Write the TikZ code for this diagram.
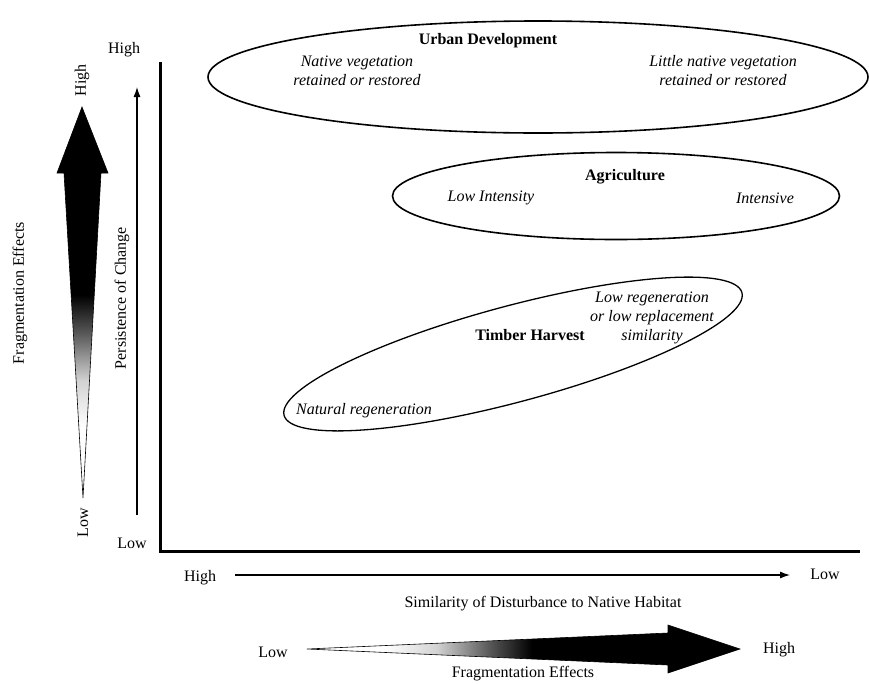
\documentclass[tikz,border=0pt]{standalone}
\usepackage{fontspec}
\setmainfont{Liberation Serif}
\usetikzlibrary{shapes.geometric, arrows.meta}

% white tail, black head (middle 25bp..75bp covers the path)
\pgfdeclarehorizontalshading{fragshade}{100bp}{color(0bp)=(white); color(34bp)=(white); color(40bp)=(gray!35); color(46bp)=(gray!70!black); color(51bp)=(black); color(100bp)=(black)}

\tikzset{
  txt/.style={font=\fontsize{16}{19}\selectfont, inner sep=0pt, align=center},
  bold/.style={txt, font=\fontsize{16}{19}\selectfont\bfseries},
  ital/.style={txt, font=\fontsize{16}{19}\selectfont\itshape},
  region/.style={draw, ellipse, line width=1.6pt, inner sep=0pt},
  fragarrow/.style={shading=fragshade, draw=black, line width=0.6pt},
}

\begin{document}
\begin{tikzpicture}[x=1pt, y=-1pt]
    \useasboundingbox (0,0) rectangle (869,683);

    % axes
    \coordinate (ytop) at (160,62);
    \coordinate (origin) at (160,551);
    \coordinate (xend) at (860,551);
    \draw[line width=3pt, line join=miter] (ytop) -- (origin) -- (xend);

    % persistence of change
    \coordinate (persLow) at (137,515);
    \coordinate (persHigh) at (137,87);
    \draw[line width=1.1pt, -{Latex[length=10pt, width=7pt]}] (persLow) -- (persHigh);
    \node[txt] (highY) at (124,50) {High};
    \node[txt] (lowY) at (132,543) {Low};
    \node[txt, rotate=90] (persLabel) at (122,298) {Persistence of Change};

    % similarity of disturbance
    \coordinate (simHigh) at (235,575);
    \coordinate (simLow) at (790,575);
    \draw[line width=1.1pt, -{Latex[length=10pt, width=7pt]}] (simHigh) -- (simLow);
    \node[txt] (highX) at (200,578) {High};
    \node[txt] (lowX) at (825,574) {Low};
    \node[txt] (simLabel) at (543,604) {Similarity of Disturbance to Native Habitat};

    % fragmentation effects, vertical
    \shade[fragarrow, shading angle=90] (82,107) -- (108,173) -- (101,173) -- (83,498)
        -- (64,173) -- (57,173) -- cycle;
    \node[txt, rotate=90] (fragHighV) at (82,80) {High};
    \node[txt, rotate=90] (fragLowV) at (83,523) {Low};
    \node[txt, rotate=90] (fragLabelV) at (20,293) {Fragmentation Effects};

    % fragmentation effects, horizontal
    \shade[fragarrow] (307,649) -- (668,633) -- (668,625) -- (740,649) -- (668,673)
        -- (668,665) -- cycle;
    \node[txt] (fragLowH) at (273,652) {Low};
    \node[txt] (fragHighH) at (779,650) {High};
    \node[txt] (fragLabelH) at (523,674) {Fragmentation Effects};

    % disturbance types
    \node[region, minimum width=660pt, minimum height=112pt] (urban) at (538,77) {};
    \node[bold] (urbanName) at (488,41) {Urban Development};
    \node[ital] (urbanLeft) at (357,71) {Native vegetation\\retained or restored};
    \node[ital] (urbanRight) at (723,71) {Little native vegetation\\retained or restored};

    \node[region, minimum width=447pt, minimum height=87pt] (agri) at (616,196) {};
    \node[bold] (agriName) at (625,177) {Agriculture};
    \node[ital] (agriLeft) at (491,198) {Low Intensity};
    \node[ital] (agriRight) at (765,198) {Intensive};

    \node[region, line width=1.3pt, rotate=15, minimum width=474pt, minimum height=96pt] (timber) at (513,354) {};
    \node[bold] (timberName) at (530,335) {Timber Harvest};
    \node[ital] (timberRight) at (652,318) {Low regeneration\\or low replacement\\similarity};
    \node[ital] (timberLeft) at (364,411) {Natural regeneration};
\end{tikzpicture}
\end{document}
